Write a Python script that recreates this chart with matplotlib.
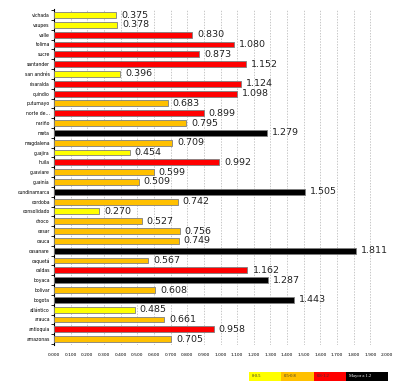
import matplotlib.pyplot as plt
import matplotlib.patches as mpatches
import numpy as np

departamentos = ["vichada", "vaupes", "valle", "tolima", "sucre", "santander",
                 "san andrés", "risaralda", "quindio", "putumayo", "norte de...",
                 "nariño", "meta", "magdalena", "guajira", "huila", "guaviare",
                 "guainía", "cundinamarca", "cordoba", "consolidado", "choco",
                 "cesar", "cauca", "casanare", "caquetá", "caldas", "boyaca",
                 "bolivar", "bogota", "atlántico", "arauca", "antioquia", "amazonas"]
valores = [0.375, 0.378, 0.830, 1.080, 0.873, 1.152, 0.396, 1.124, 1.098, 0.683,
           0.899, 0.795, 1.279, 0.709, 0.454, 0.992, 0.599, 0.509, 1.505, 0.742,
           0.270, 0.527, 0.756, 0.749, 1.811, 0.567, 1.162, 1.287, 0.608, 1.443,
           0.485, 0.661, 0.958, 0.705]

rangos = ["0-0.5", "0.5-0.8", "0.8-1.2", "Mayor a 1.2"]
limites = [0.5, 0.8, 1.2]
colores = ["#FFFF00", "#FFC000", "#FF0000", "#000000"]


def color_de(v):
    for lim, c in zip(limites, colores):
        if v < lim:
            return c
    return colores[-1]


fig = plt.figure(figsize=(4, 3.81), dpi=100)
ax = fig.add_axes([0.135, 0.0945, 0.8325, 0.8815])

y = np.arange(len(departamentos))
ax.barh(y, valores, height=0.6, color=[color_de(v) for v in valores],
        edgecolor="#7f7f7f", linewidth=0.6, zorder=3)

for yi, v in zip(y, valores):
    ax.text(v + 0.03, yi, f"{v:.3f}", va="center", ha="left", fontsize=6.8,
            color="#222222")

ax.set_xlim(0, 2.0)
ax.set_ylim(len(departamentos) - 0.4, -0.6)
ax.set_xticks(np.arange(0, 2.01, 0.1))
ax.set_xticklabels([f"{t:.3f}" for t in np.arange(0, 2.01, 0.1)], fontsize=3.2)
ax.set_yticks(y)
ax.set_yticklabels(departamentos, fontsize=3.3)
ax.tick_params(axis="y", length=0, pad=3)
ax.tick_params(axis="x", length=0, pad=6)
ax.set_yticks(np.arange(-0.5, len(departamentos), 1), minor=True)
ax.tick_params(axis="y", which="minor", length=2, width=0.6)

ax.grid(axis="x", linestyle=(0, (2, 2)), color="#b0b0b0", linewidth=0.5, zorder=0)
for s in ["top", "right", "bottom"]:
    ax.spines[s].set_visible(False)
ax.spines["left"].set_linewidth(0.8)

# leyenda con cajas de color
anchos = [0.08, 0.082, 0.08, 0.105]
x0 = 0.6225
for r, c, w in zip(rangos, colores, anchos):
    fig.patches.append(mpatches.Rectangle((x0, 0.0), w, 0.024,
                                          transform=fig.transFigure,
                                          facecolor=c, edgecolor="none"))
    fig.text(x0 + 0.008, 0.012, r, fontsize=3.3, va="center", ha="left",
             color="white" if c == "#000000" else "#333333",
             family="Liberation Serif")
    x0 += w

fig.savefig("out.png", dpi=100)
